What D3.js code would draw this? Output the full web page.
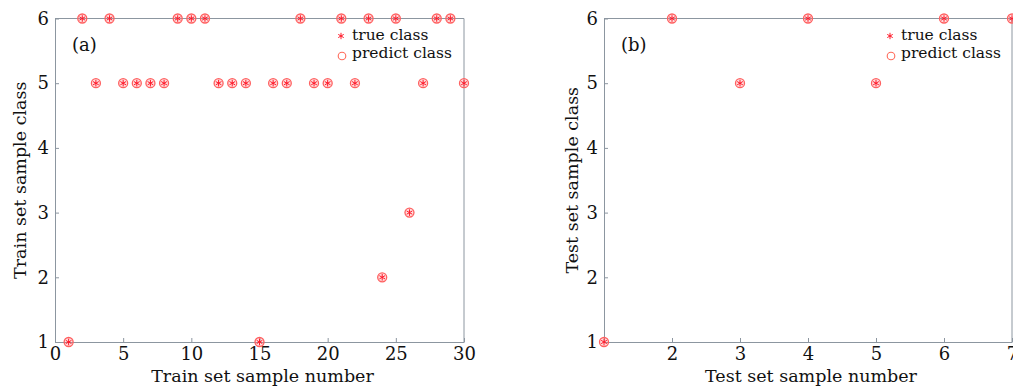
<!DOCTYPE html>
<html>
<head>
<meta charset="utf-8">
<script src="https://cdn.jsdelivr.net/npm/d3@7"></script>
<style>
  html, body { margin: 0; padding: 0; background: #fff; }
  svg { display: block; }
  text { font-family: "DejaVu Serif", "Liberation Serif", serif; fill: #111; }
  .axis path, .axis line { stroke: #8c96a0; }
</style>
</head>
<body>
<div id="chart"></div>
<script>
// Train/test classification results (true class vs. predicted class)
var trainNumber = d3.range(1, 31);
var trainTrue    = [1, 6, 5, 6, 5, 5, 5, 5, 6, 6, 6, 5, 5, 5, 1, 5, 5, 6, 5, 5, 6, 5, 6, 2, 6, 3, 5, 6, 6, 5];
var trainPredict = [1, 6, 5, 6, 5, 5, 5, 5, 6, 6, 6, 5, 5, 5, 1, 5, 5, 6, 5, 5, 6, 5, 6, 2, 6, 3, 5, 6, 6, 5];
var testNumber  = [1, 2, 3, 4, 5, 6, 7];
var testTrue    = [1, 6, 5, 6, 5, 6, 6];
var testPredict = [1, 6, 5, 6, 5, 6, 6];
var classTicks = [1, 2, 3, 4, 5, 6];
var trainXTicks = [0, 5, 10, 15, 20, 25, 30];
var testXTicks = [2, 3, 4, 5, 6, 7];
var legendLabels = ['true class', 'predict class'];

var W = 1013, H = 387;
var svg = d3.select('#chart').append('svg').attr('width', W).attr('height', H);

var panels = [
  { tag: '(a)', left: 55, right: 464, xDomain: [0, 30], xTicks: trainXTicks,
    xs: trainNumber, yTrue: trainTrue, yPred: trainPredict,
    xTitle: 'Train set sample number', yTitle: 'Train set sample class', yTitleX: 20,
    legendX: 341 },
  { tag: '(b)', left: 604, right: 1012, xDomain: [1, 7], xTicks: testXTicks,
    xs: testNumber, yTrue: testTrue, yPred: testPredict,
    xTitle: 'Test set sample number', yTitle: 'Test set sample class', yTitleX: 572,
    legendX: 890 }
];
var plotTop = 18.5, plotBottom = 342;

panels.forEach(function (p) {
  var x = d3.scaleLinear().domain(p.xDomain).range([p.left, p.right]);
  var y = d3.scaleLinear().domain([1, 6]).range([plotBottom, plotTop]);
  var g = svg.append('g');

  // frame (top + right)
  g.append('path')
    .attr('d', 'M' + p.left + ',' + plotTop + 'H' + p.right + 'V' + plotBottom)
    .attr('fill', 'none').attr('stroke', '#8c96a0');

  var xAxis = g.append('g').attr('class', 'axis')
    .attr('transform', 'translate(0,' + plotBottom + ')')
    .call(d3.axisBottom(x).tickValues(p.xTicks).tickFormat(d3.format('d'))
      .tickSizeInner(-4).tickSizeOuter(0).tickPadding(5));
  xAxis.selectAll('text').style('font-size', '18px').attr('fill', '#111');
  var yAxis = g.append('g').attr('class', 'axis')
    .attr('transform', 'translate(' + p.left + ',0)')
    .call(d3.axisLeft(y).tickValues(classTicks).tickFormat(d3.format('d'))
      .tickSizeInner(-4).tickSizeOuter(0).tickPadding(6));
  yAxis.selectAll('text').style('font-size', '18px').attr('fill', '#111');

  // axis titles
  g.append('text').attr('x', (p.left + p.right) / 2 + 3).attr('y', 382)
    .attr('text-anchor', 'middle').style('font-size', '17.5px').text(p.xTitle);
  g.append('text')
    .attr('transform', 'translate(' + p.yTitleX + ',' + (plotTop + plotBottom) / 2 + ') rotate(-90)')
    .attr('text-anchor', 'middle').attr('dy', '0.35em').style('font-size', '17.5px').text(p.yTitle);

  // panel tag
  g.append('text').attr('x', p.left + 17).attr('y', 51).style('font-size', '18px').text(p.tag);

  // predicted (circle) markers
  g.append('g').selectAll('circle').data(p.xs).enter().append('circle')
    .attr('cx', function (d) { return x(d); })
    .attr('cy', function (d, i) { return y(p.yPred[i]); })
    .attr('r', 4.5)
    .attr('fill', 'rgba(255,120,120,0.25)').attr('stroke', '#ff6060').attr('stroke-width', 1.3);

  // true (asterisk) markers
  var star = d3.symbol().type(d3.symbolAsterisk).size(30);
  g.append('g').selectAll('path').data(p.xs).enter().append('path')
    .attr('transform', function (d, i) { return 'translate(' + x(d) + ',' + y(p.yTrue[i]) + ')'; })
    .attr('d', star)
    .attr('fill', 'none').attr('stroke', '#ff1a2a').attr('stroke-width', 1);

  // legend
  var lg = g.append('g');
  lg.append('path').attr('transform', 'translate(' + p.legendX + ',36)')
    .attr('d', d3.symbol().type(d3.symbolAsterisk).size(28))
    .attr('fill', 'none').attr('stroke', '#ff1a2a').attr('stroke-width', 1);
  lg.append('circle').attr('cx', p.legendX + 1).attr('cy', 56).attr('r', 3.8)
    .attr('fill', 'none').attr('stroke', '#ff6a5a').attr('stroke-width', 1.1);
  legendLabels.forEach(function (t, i) {
    lg.append('text').attr('x', p.legendX + 11).attr('y', 40 + i * 18)
      .style('font-size', '15.5px').text(t);
  });
});
</script>
</body>
</html>
